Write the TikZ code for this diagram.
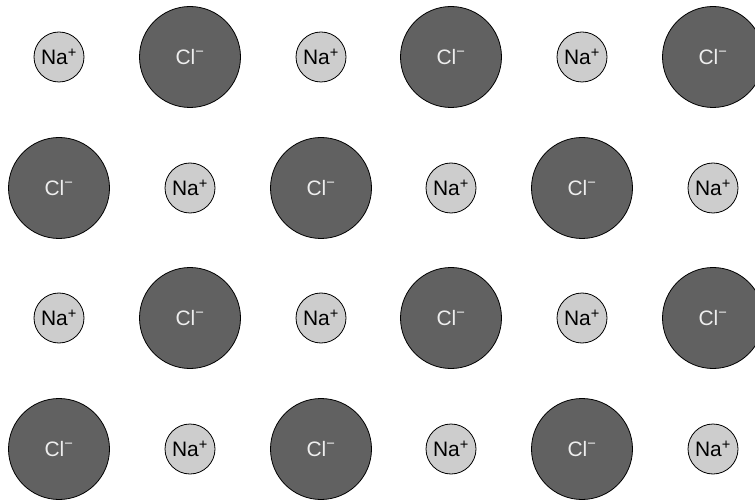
\documentclass[tikz,border=0pt]{standalone}
\usepackage{fontspec}
\setmainfont{Liberation Sans}
\definecolor{cldark}{HTML}{616161}
\definecolor{nalight}{HTML}{CDCDCD}
\definecolor{cltext}{HTML}{EEEEEE}
\begin{document}
\begin{tikzpicture}[x=1bp,y=-1bp,
  clion/.style={circle,draw=black,line width=0.8bp,fill=cldark,minimum size=101bp,inner sep=0pt,text=cltext,font=\fontsize{21}{24}\selectfont},
  naion/.style={circle,draw=black,line width=0.8bp,fill=nalight,minimum size=50bp,inner sep=0pt,text=black,font=\fontsize{21}{24}\selectfont}]
\path[use as bounding box] (0,0) rectangle (755,502);
\def\cl{Cl\textsuperscript{−}}
\def\na{Na\textsuperscript{+}}
% row 1
\node[naion] (n11) at (59,57) {\na};
\node[clion] (c12) at (190,57) {\cl};
\node[naion] (n13) at (321,57) {\na};
\node[clion] (c14) at (451,57) {\cl};
\node[naion] (n15) at (582,57) {\na};
\node[clion] (c16) at (713,57) {\cl};
% row 2
\node[clion] (c21) at (59,188) {\cl};
\node[naion] (n22) at (190,188) {\na};
\node[clion] (c23) at (321,188) {\cl};
\node[naion] (n24) at (451,188) {\na};
\node[clion] (c25) at (582,188) {\cl};
\node[naion] (n26) at (713,188) {\na};
% row 3
\node[naion] (n31) at (59,318) {\na};
\node[clion] (c32) at (190,318) {\cl};
\node[naion] (n33) at (321,318) {\na};
\node[clion] (c34) at (451,318) {\cl};
\node[naion] (n35) at (582,318) {\na};
\node[clion] (c36) at (713,318) {\cl};
% row 4
\node[clion] (c41) at (59,449) {\cl};
\node[naion] (n42) at (190,449) {\na};
\node[clion] (c43) at (321,449) {\cl};
\node[naion] (n44) at (451,449) {\na};
\node[clion] (c45) at (582,449) {\cl};
\node[naion] (n46) at (713,449) {\na};
\end{tikzpicture}
\end{document}
